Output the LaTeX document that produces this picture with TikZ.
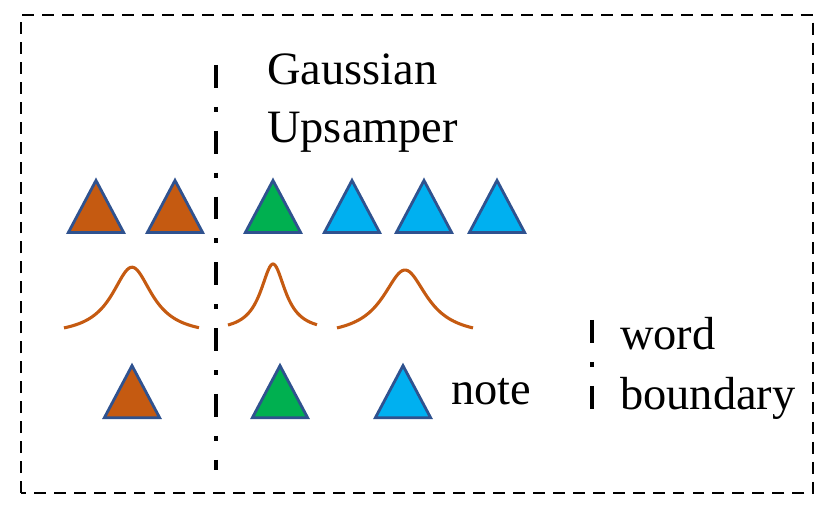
\documentclass[tikz,border=0pt]{standalone}
\usepackage{fontspec}
\setmainfont{Liberation Serif}
\usetikzlibrary{shapes.geometric}

\definecolor{noteorange}{HTML}{C55A11}
\definecolor{notegreen}{HTML}{00B050}
\definecolor{noteblue}{HTML}{00B0F0}
\definecolor{rimblue}{HTML}{2F528F}

\begin{document}
\begin{tikzpicture}[
  x=1cm, y=1cm,
  every node/.style={inner sep=0pt},
  frame/.style={draw, line width=2.1pt, dash pattern=on 8.5pt off 5.7pt},
  boundary/.style={draw, line width=3.5pt,
    dash pattern=on 16.3pt off 13.5pt on 3.5pt off 13.5pt},
  tri/.style={isosceles triangle, isosceles triangle stretches,
    shape border rotate=90, minimum width=1.38cm, minimum height=1.3cm,
    draw=rimblue, line width=2pt, inner sep=0pt, anchor=apex},
  bell/.style={draw=noteorange, line width=2.2pt, smooth},
  lbl/.style={font=\fontsize{33}{41}\selectfont, anchor=base west}]

  \useasboundingbox (0,0) rectangle (20.8,12.85);

  % outer frame
  \draw[frame] (0.525,0.525) rectangle (20.325,12.475);

  % word boundary line
  \coordinate (wtop) at (5.4,11.225);
  \coordinate (wbot) at (5.4,1.1);
  \draw[boundary] (wtop) -- (wbot);

  % title
  \node[lbl] (title1) at (6.675,10.725) {Gaussian};
  \node[lbl] (title2) at (6.675,9.275) {Upsamper};

  % upsampled frames
  \node[tri, fill=noteorange] (f1) at (2.4,8.43) {};
  \node[tri, fill=noteorange] (f2) at (4.375,8.43) {};
  \node[tri, fill=notegreen]  (f3) at (6.825,8.43) {};
  \node[tri, fill=noteblue]   (f4) at (8.8,8.43) {};
  \node[tri, fill=noteblue]   (f5) at (10.6,8.43) {};
  \node[tri, fill=noteblue]   (f6) at (12.425,8.43) {};

  % gaussians
  \draw[bell] plot[domain=1.6:4.975, samples=80]
    (\x, {4.45+1.72/(1+((\x-3.3)/0.62)^2)});
  \draw[bell] plot[domain=5.7:7.925, samples=80]
    (\x, {4.55+1.70/(1+((\x-6.825)/0.38)^2)});
  \draw[bell] plot[domain=8.425:11.825, samples=80]
    (\x, {4.42+1.68/(1+((\x-10.125)/0.68)^2)});

  % notes
  \node[tri, fill=noteorange] (n1) at (3.3,3.8) {};
  \node[tri, fill=notegreen]  (n2) at (7.0,3.8) {};
  \node[tri, fill=noteblue]   (n3) at (10.075,3.8) {};
  \node[lbl] (notelbl) at (11.275,2.725) {note};

  % legend
  \coordinate (ltop) at (14.8,4.85);
  \coordinate (lbot) at (14.8,2.6);
  \draw[boundary] (ltop) -- (lbot);
  \node[lbl] (word) at (15.5,4.1) {word};
  \node[lbl] (bnd) at (15.5,2.6) {boundary};
\end{tikzpicture}
\end{document}
